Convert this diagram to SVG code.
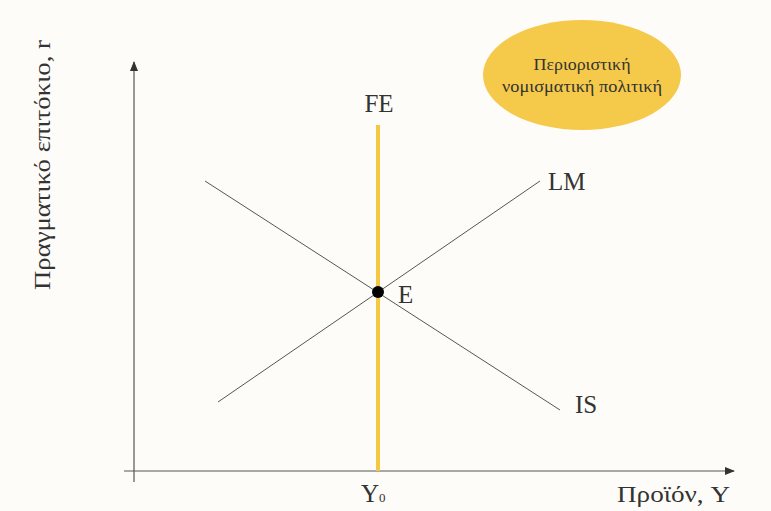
<svg xmlns="http://www.w3.org/2000/svg" width="771" height="511" viewBox="0 0 771 511">
<style>
.t{font-family:"Liberation Serif","DejaVu Serif",serif;fill:#333;}
.lb{font-size:25px;}
.ax{stroke:#555;stroke-width:1.2;fill:none;}
.cv{stroke:#555;stroke-width:1;fill:none;}
</style>
<defs>
<marker id="ar" markerWidth="10" markerHeight="8" refX="9" refY="4" orient="auto" markerUnits="userSpaceOnUse">
<path d="M0,0 L10,4 L0,8 Z" fill="#333"/>
</marker>
</defs>
<rect width="771" height="511" fill="#fdfcf8"/>
<g id="axes">
<line class="ax" x1="134" y1="482" x2="134" y2="62" marker-end="url(#ar)"/>
<line class="ax" x1="124" y1="471" x2="734" y2="471" marker-end="url(#ar)"/>
<text class="t" font-size="24" transform="translate(50,165) rotate(-90)" text-anchor="middle" textLength="250" lengthAdjust="spacingAndGlyphs">Πραγματικό επιτόκιο, r</text>
<text class="t" font-size="24" x="617" y="502" textLength="113" lengthAdjust="spacingAndGlyphs">Προϊόν, Y</text>
<text class="t lb" x="361" y="502">Y<tspan font-size="13">0</tspan></text>
</g>
<g id="connectors">
<line id="IS-line" class="cv" x1="205" y1="181" x2="560" y2="410"/>
<line id="LM-line" class="cv" x1="218" y1="402" x2="540" y2="181"/>
<line id="FE-line" x1="378" y1="125" x2="378" y2="471" stroke="#f5c842" stroke-width="4"/>
</g>
<g id="FE"><text class="t lb" x="379" y="112" text-anchor="middle">FE</text></g>
<g id="LM"><text class="t lb" x="548" y="190">LM</text></g>
<g id="IS"><text class="t lb" x="575" y="413">IS</text></g>
<g id="E">
<circle cx="378" cy="292" r="6" fill="#000"/>
<text class="t lb" x="398" y="303">E</text>
</g>
<g id="policy">
<ellipse cx="582" cy="75" rx="99" ry="55" fill="#f5c94a"/>
<text class="t" font-size="16" x="582" y="70" text-anchor="middle" textLength="97" lengthAdjust="spacingAndGlyphs">Περιοριστική</text>
<text class="t" font-size="16" x="582" y="92" text-anchor="middle" textLength="160" lengthAdjust="spacingAndGlyphs">νομισματική πολιτική</text>
</g>
</svg>
